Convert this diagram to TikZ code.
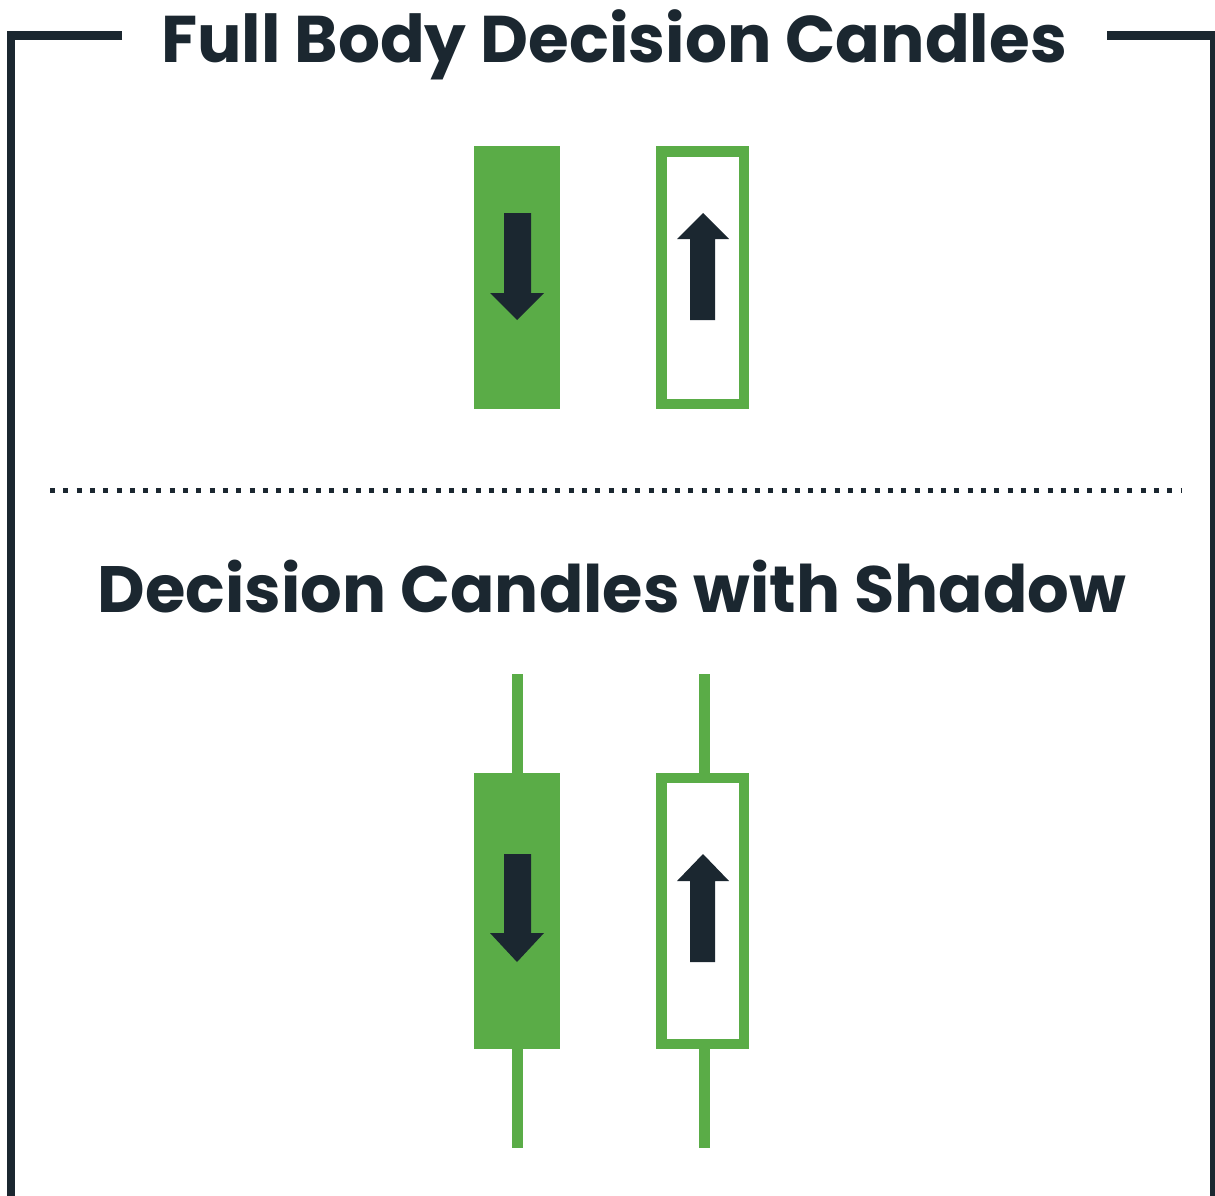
\documentclass[tikz,border=0pt]{standalone}
\usepackage{fontspec}
\setmainfont{Poppins}
\definecolor{cgreen}{RGB}{90,172,71}
\definecolor{cdark}{RGB}{27,39,48}
\begin{document}
\begin{tikzpicture}[x=1pt,y=-1pt,
  frame/.style={draw=cdark,line width=8.5pt},
  title/.style={text=cdark,font=\bfseries,anchor=base,inner sep=0pt},
  bodyfull/.style={fill=cgreen,draw=none},
  bodyhollow/.style={draw=cgreen,line width=10.5pt,fill=white},
  wick/.style={draw=cgreen,line width=11pt},
  arrowshape/.style={fill=cdark,draw=none},
  sep/.style={draw=cdark,line width=5pt,dash pattern=on 5pt off 8.3pt}]
\useasboundingbox (0,0) rectangle (1215,1196);
\fill[white] (0,0) rectangle (1215,1196);
% frame
\draw[frame] (122,35.5) -- (11,35.5) -- (11,1200);
\draw[frame] (1107,35.5) -- (1214.5,35.5) -- (1214.5,1200);
% titles
\node[title] (t1) at (614,63) {\fontsize{66}{70}\selectfont Full Body Decision Candles};
\node[title] (t2) at (612,612) {\fontsize{65.5}{69}\selectfont Decision Candles with Shadow};
% separator
\coordinate (s1) at (50,490);
\coordinate (s2) at (1182,490);
\draw[sep] (s1) -- (s2);
% top candles
\path[bodyfull] (474,146) rectangle (560,409);
\path[bodyhollow] (661.25,151.25) rectangle (743.75,403.75);
\path[arrowshape] (504,213) -- (531,213) -- (531,293) -- (544,293) -- (517,320) -- (490,293) -- (504,293) -- cycle;
\path[arrowshape] (703,213) -- (729,239) -- (715,239) -- (715,320) -- (690,320) -- (690,239) -- (677,239) -- cycle;
% bottom candles
\draw[wick] (517.5,674) -- (517.5,773);
\draw[wick] (517.5,1049) -- (517.5,1148);
\draw[wick] (704,674) -- (704,778);
\draw[wick] (704,1044) -- (704,1148);
\path[bodyfull] (474,773) rectangle (560,1049);
\path[bodyhollow] (661.25,778) rectangle (743.75,1044);
\path[arrowshape] (504,854) -- (531,854) -- (531,933) -- (544,933) -- (517,962) -- (490,933) -- (504,933) -- cycle;
\path[arrowshape] (703,854) -- (729,881) -- (715,881) -- (715,962) -- (690,962) -- (690,881) -- (677,881) -- cycle;
\end{tikzpicture}
\end{document}
